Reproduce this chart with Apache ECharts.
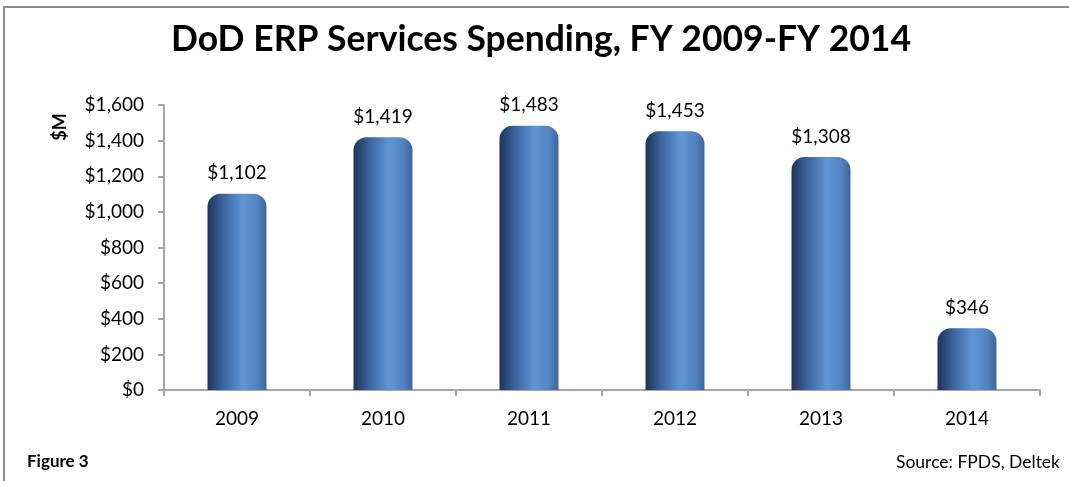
<!DOCTYPE html>
<html><head><meta charset="utf-8">
<script src="https://cdn.jsdelivr.net/npm/echarts@6/dist/echarts.min.js"></script>
<style>html,body{margin:0;padding:0;background:#fff}#c{width:1069px;height:481px}</style>
</head><body><div id="c"></div>
<script>
const categories = ['2009','2010','2011','2012','2013','2014'];
const spending = [1102, 1419, 1483, 1453, 1308, 346];
const yTicks = {min: 0, max: 1600, interval: 200};

const F = 'Lato, "Open Sans", sans-serif';
const chart = echarts.init(document.getElementById('c'));
const barColor = new echarts.graphic.LinearGradient(0,0,1,0,[
  {offset:0, color:'#1e3554'},
  {offset:0.25, color:'#3a619a'},
  {offset:0.6, color:'#6196d6'},
  {offset:0.85, color:'#5181c0'},
  {offset:1, color:'#3c679f'}
]);
chart.setOption({
  animation:false,
  graphic:[
    {type:'rect', shape:{x:4,y:7,width:1080,height:500}, style:{fill:'none',stroke:'#8c8c8c',lineWidth:2}},
    {type:'text', x:541, y:40, style:{text:'DoD ERP Services Spending, FY 2009-FY 2014', font:'bold 35.5px '+F, fill:'#000', align:'center', verticalAlign:'middle'}},
    {type:'text', x:60, y:127, rotation:Math.PI/2, style:{text:'$M', font:'bold 18px '+F, fill:'#000', align:'center', verticalAlign:'middle'}},
    {type:'text', left:27, top:453, style:{text:'Figure 3', font:'bold 17px '+F, fill:'#000'}},
    {type:'text', right:9, top:453, style:{text:'Source: FPDS, Deltek', font:'17.5px '+F, fill:'#000'}}
  ],
  grid:{left:164, right:29, top:105, bottom:91},
  xAxis:{type:'category', data:categories,
    axisLine:{lineStyle:{color:'#a6a6a6', width:2}},
    axisTick:{show:true, length:6, lineStyle:{color:'#a6a6a6', width:2}},
    axisLabel:{fontFamily:F, fontSize:19, color:'#000', margin:19}},
  yAxis:{type:'value', min:yTicks.min, max:yTicks.max, interval:yTicks.interval,
    axisLine:{show:true, lineStyle:{color:'#a6a6a6', width:2}},
    axisTick:{show:true, length:6, inside:false, lineStyle:{color:'#a6a6a6', width:2}},
    splitLine:{show:false},
    axisLabel:{fontFamily:F, fontSize:19, color:'#000', margin:20,
      formatter:v=>'$'+v.toLocaleString('en-US')}},
  series:[{type:'bar', data:spending, barWidth:59,
    itemStyle:{color:barColor, borderRadius:[13,13,0,0]},
    label:{show:true, position:'top', distance:11, fontFamily:F, fontSize:19, color:'#000',
      formatter:p=>'$'+p.value.toLocaleString('en-US')}}]
});
</script></body></html>
